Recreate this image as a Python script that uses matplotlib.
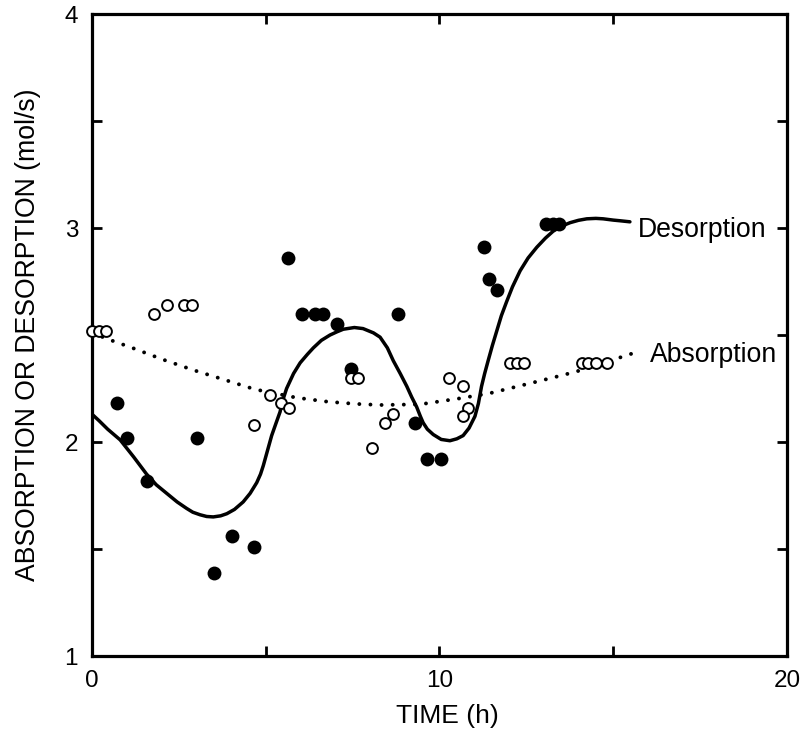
import matplotlib
matplotlib.use("Agg")
import matplotlib.pyplot as plt
from matplotlib.ticker import MultipleLocator

plt.rcParams['font.family'] = ['Liberation Sans', 'DejaVu Sans']

# Measured absorption rates (open circles)
abs_time = [0.0, 0.2, 0.4, 1.79, 2.17, 2.65, 2.89, 4.66, 5.12, 5.44, 5.68,
            7.44, 7.66, 8.05, 8.43, 8.67, 10.28, 10.67, 10.83, 10.67,
            12.03, 12.22, 12.43, 14.09, 14.28, 14.49, 14.81]
abs_rate = [2.52, 2.52, 2.52, 2.60, 2.64, 2.64, 2.64, 2.08, 2.22, 2.18, 2.16,
            2.30, 2.30, 1.97, 2.09, 2.13, 2.30, 2.26, 2.16, 2.12,
            2.37, 2.37, 2.37, 2.37, 2.37, 2.37, 2.37]

# Measured desorption rates (filled circles)
des_time = [0.71, 1.02, 1.57, 3.01, 3.51, 4.04, 4.66, 5.65, 6.03, 6.42, 6.66,
            7.04, 7.44, 8.82, 9.29, 9.65, 10.04, 11.28, 11.43, 11.66,
            13.06, 13.27, 13.45]
des_rate = [2.18, 2.02, 1.82, 2.02, 1.39, 1.56, 1.51, 2.86, 2.60, 2.60, 2.60,
            2.55, 2.34, 2.60, 2.09, 1.92, 1.92, 2.91, 2.76, 2.71,
            3.02, 3.02, 3.02]

# Fitted desorption trend (solid line)
des_fit_t = [0.0, 0.2, 0.45, 0.81, 1.2, 1.57, 1.85, 2.15, 2.45, 2.72, 2.9,
             3.11, 3.3, 3.49, 3.7, 3.88, 4.1, 4.35, 4.55, 4.74, 4.85, 4.93,
             5.05, 5.17, 5.3, 5.41, 5.5, 5.6, 5.8, 5.99, 6.2, 6.37, 6.6,
             6.85, 7.05, 7.23, 7.55, 7.8, 7.95, 8.1, 8.29, 8.5, 8.67, 8.87,
             9.06, 9.2, 9.34, 9.45, 9.53, 9.65, 9.82, 10.05, 10.3, 10.5,
             10.68, 10.85, 11.02, 11.12, 11.21, 11.3, 11.4, 11.52, 11.65,
             11.78, 11.93, 12.1, 12.32, 12.55, 12.8, 13.05, 13.27, 13.5,
             13.76, 14.0, 14.24, 14.5, 14.71, 15.0, 15.19, 15.48]
des_fit_r = [2.13, 2.10, 2.06, 2.01, 1.93, 1.85, 1.80, 1.76, 1.72, 1.69, 1.672,
             1.66, 1.652, 1.65, 1.655, 1.665, 1.685, 1.72, 1.76, 1.81, 1.85,
             1.89, 1.96, 2.03, 2.09, 2.14, 2.20, 2.25, 2.32, 2.37, 2.41,
             2.44, 2.475, 2.50, 2.515, 2.527, 2.535, 2.53, 2.52, 2.51, 2.49,
             2.44, 2.38, 2.32, 2.26, 2.21, 2.165, 2.12, 2.09, 2.06, 2.035,
             2.012, 2.006, 2.015, 2.03, 2.065, 2.12, 2.18, 2.26, 2.32, 2.38,
             2.45, 2.52, 2.59, 2.655, 2.725, 2.80, 2.86, 2.91, 2.953, 2.985,
             3.008, 3.025, 3.036, 3.043, 3.045, 3.043, 3.037, 3.034, 3.029]

# Fitted absorption trend (dotted line)
abs_fit_t = [0.0, 0.52, 1.14, 2.03, 2.92, 3.83, 4.69, 5.89, 6.80, 7.6, 8.29,
             9.44, 10.59, 11.45, 12.60, 13.56, 14.4, 15.1, 15.67]
abs_fit_r = [2.51, 2.477, 2.441, 2.386, 2.336, 2.290, 2.246, 2.207, 2.188,
             2.178, 2.173, 2.176, 2.204, 2.228, 2.274, 2.313, 2.35, 2.39, 2.42]

fig = plt.figure(figsize=(8.05, 7.38), dpi=100)
ax = fig.add_axes([0.1143, 0.1111, 0.8633, 0.8699])

ax.plot(des_fit_t, des_fit_r, color='black', lw=2.5, zorder=2,
        solid_capstyle='round', solid_joinstyle='round')
ax.plot(abs_fit_t, abs_fit_r, color='black', lw=2.8, zorder=2,
        linestyle=(0, (0.01, 2.85)), dash_capstyle='round')

ax.plot(des_time, des_rate, 'o', color='black', ms=10, mew=0, zorder=3,
        clip_on=False)
ax.plot(abs_time, abs_rate, 'o', mfc='white', mec='black', ms=7.8, mew=1.4,
        zorder=4, clip_on=False)

ax.text(15.71, 2.958, 'Desorption', fontsize=19.2, ha='left', va='baseline')
ax.text(16.06, 2.374, 'Absorption', fontsize=19.2, ha='left', va='baseline')

ax.set_xlim(0, 20)
ax.set_ylim(1, 4)
ax.set_xticks([0, 10, 20])
ax.set_yticks([1, 2, 3, 4])
ax.xaxis.set_minor_locator(MultipleLocator(5))
ax.yaxis.set_minor_locator(MultipleLocator(0.5))
ax.tick_params(which='both', direction='in', top=True, right=True,
               length=7, width=2, labelsize=17.5)
ax.tick_params(axis='x', pad=10)
ax.tick_params(axis='y', pad=10)
for s in ax.spines.values():
    s.set_linewidth(2.3)

ax.set_xlabel('TIME (h)', fontsize=19)
ax.set_ylabel('ABSORPTION OR DESORPTION (mol/s)', fontsize=19.2)
ax.xaxis.set_label_coords(0.512, -0.075)
ax.yaxis.set_label_coords(-0.073, 0.5)

fig.savefig('out.png', dpi=100)
